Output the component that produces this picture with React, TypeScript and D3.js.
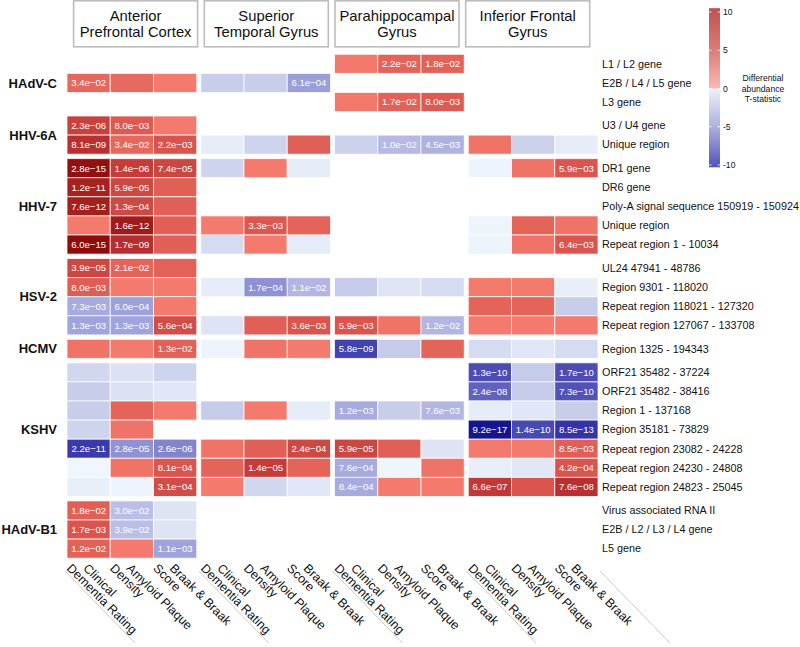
import React from "react";
import * as d3 from "d3";

// brain regions (facets) and the three clinical measures inside each
const regionLines = [
  ["Anterior", "Prefrontal Cortex"],
  ["Superior", "Temporal Gyrus"],
  ["Parahippocampal", "Gyrus"],
  ["Inferior Frontal", "Gyrus"],
];
const regions = ["APC", "STG", "PHG", "IFG"];
const measures = ["CDR", "APD", "BB"];
const measureLines = [
  ["Clinical", "Dementia Rating"],
  ["Amyloid Plaque", "Density"],
  ["Braak & Braak", "Score"],
];

const viruses = ["HAdV-C", "HHV-6A", "HHV-7", "HSV-2", "HCMV", "KSHV", "HAdV-B1"];
const virusRowCounts = [3, 2, 5, 4, 1, 7, 3];

const rowLabels = [
  "L1 / L2 gene",
  "E2B / L4 / L5 gene",
  "L3 gene",
  "U3 / U4 gene",
  "Unique region",
  "DR1 gene",
  "DR6 gene",
  "Poly-A signal sequence 150919 - 150924",
  "Unique region",
  "Repeat region 1 - 10034",
  "UL24 47941 - 48786",
  "Region 9301 - 118020",
  "Repeat region 118021 - 127320",
  "Repeat region 127067 - 133708",
  "Region 1325 - 194343",
  "ORF21 35482 - 37224",
  "ORF21 35482 - 38416",
  "Region 1 - 137168",
  "Region 35181 - 73829",
  "Repeat region 23082 - 24228",
  "Repeat region 24230 - 24808",
  "Repeat region 24823 - 25045",
  "Virus associated RNA II",
  "E2B / L2 / L3 / L4 gene",
  "L5 gene",
];

const _ = null;
// T-statistics, 12 columns = 4 regions x 3 measures (null = not measured)
const tStats: (number | null)[][] = [
  [_, _, _, _, _, _, 1.6, 2.4, 2.5, _, _, _],
  [2.3, 2.2, 1.5, -1.55, -1.55, -3.4, _, _, _, _, _, _],
  [_, _, _, _, _, _, 1.6, 2.5, 2.8, _, _, _],
  [4.8, 2.8, 1.5, _, _, _, _, _, _, _, _, _],
  [6.2, 2.3, 3.1, -0.6, -1.35, 2.6, -1.45, -2.3, -2.6, 1.8, -1.45, -0.6],
  [8.3, 5.2, 4.2, -1.35, 1.5, -0.6, _, _, _, -0.3, 1.8, 3.0],
  [7.2, 4.1, 2.6, _, _, _, _, _, _, _, _, _],
  [7.3, 4.0, 2.6, _, _, _, _, _, _, _, _, _],
  [1.5, 7.6, 2.6, 1.5, 2.9, 2.4, _, _, _, -0.3, 2.4, 1.8],
  [8.6, 6.3, 2.6, -1.1, 1.5, -0.6, _, _, _, -0.3, 1.8, 3.0],
  [4.1, 2.4, 2.5, _, _, _, _, _, _, _, _, _],
  [2.7, 1.5, 1.5, -0.6, -3.95, -2.4, -1.65, -0.8, -1.1, 1.5, 1.5, -0.5],
  [-2.9, -3.3, 1.5, _, _, _, _, _, _, 2.4, 2.4, -1.55],
  [-3.2, -3.2, 3.6, -0.85, 2.6, 3.0, 3.0, 1.8, -2.4, 1.5, 1.5, 1.5],
  [1.8, 1.5, 2.5, -0.3, 1.8, 1.5, -6.7, -1.65, 2.4, -1.1, -0.75, -1.1],
  [-1.25, -0.9, -1.35, _, _, _, _, _, _, -6.4, -1.65, -6.4],
  [-1.55, -0.9, -0.75, _, _, _, _, _, _, -5.6, -1.65, -6.2],
  [-1.55, 2.4, 1.5, -1.65, 1.5, -0.6, -2.9, -1.55, -2.4, -0.6, -0.75, -1.55],
  [-1.35, 1.8, _, _, _, _, _, _, _, -9.0, -6.5, -7.3],
  [-7.0, -3.9, -4.3, 1.8, 2.6, 4.0, 4.3, 2.6, -0.85, 1.5, 1.5, 2.6],
  [-0.2, 1.8, 3.0, 2.4, 5.2, 2.4, -2.9, -0.25, 1.8, -0.5, -0.75, 3.0],
  [-0.5, -0.3, 3.6, 1.5, -1.25, -0.75, -2.9, 1.5, 1.5, 5.5, 3.0, 6.2],
  [2.6, -2.1, -0.85, _, _, _, _, _, _, _, _, _],
  [3.0, -2.1, -0.85, _, _, _, _, _, _, _, _, _],
  [2.5, 1.5, -3.2, _, _, _, _, _, _, _, _, _],
];

// adjusted p-values printed in the significant cells ("" = none)
const pValues: string[][] = [
  ["", "", "", "", "", "", "", "2.2e-02", "1.8e-02", "", "", ""],
  ["3.4e-02", "", "", "", "", "6.1e-04", "", "", "", "", "", ""],
  ["", "", "", "", "", "", "", "1.7e-02", "8.0e-03", "", "", ""],
  ["2.3e-06", "8.0e-03", "", "", "", "", "", "", "", "", "", ""],
  ["8.1e-09", "3.4e-02", "2.2e-03", "", "", "", "", "1.0e-02", "4.5e-03", "", "", ""],
  ["2.8e-15", "1.4e-06", "7.4e-05", "", "", "", "", "", "", "", "", "5.9e-03"],
  ["1.2e-11", "5.9e-05", "", "", "", "", "", "", "", "", "", ""],
  ["7.6e-12", "1.3e-04", "", "", "", "", "", "", "", "", "", ""],
  ["", "1.6e-12", "", "", "3.3e-03", "", "", "", "", "", "", ""],
  ["6.0e-15", "1.7e-09", "", "", "", "", "", "", "", "", "", "6.4e-03"],
  ["3.9e-05", "2.1e-02", "", "", "", "", "", "", "", "", "", ""],
  ["8.0e-03", "", "", "", "1.7e-04", "1.1e-02", "", "", "", "", "", ""],
  ["7.3e-03", "6.0e-04", "", "", "", "", "", "", "", "", "", ""],
  ["1.3e-03", "1.3e-03", "5.6e-04", "", "", "3.6e-03", "5.9e-03", "", "1.2e-02", "", "", ""],
  ["", "", "1.3e-02", "", "", "", "5.8e-09", "", "", "", "", ""],
  ["", "", "", "", "", "", "", "", "", "1.3e-10", "", "1.7e-10"],
  ["", "", "", "", "", "", "", "", "", "2.4e-08", "", "7.3e-10"],
  ["", "", "", "", "", "", "1.2e-03", "", "7.6e-03", "", "", ""],
  ["", "", "", "", "", "", "", "", "", "9.2e-17", "1.4e-10", "8.5e-13"],
  ["2.2e-11", "2.8e-05", "2.6e-06", "", "", "2.4e-04", "5.9e-05", "", "", "", "", "8.5e-03"],
  ["", "", "8.1e-04", "", "1.4e-05", "", "7.6e-04", "", "", "", "", "4.2e-04"],
  ["", "", "3.1e-04", "", "", "", "8.4e-04", "", "", "6.6e-07", "", "7.6e-08"],
  ["1.8e-02", "3.0e-02", "", "", "", "", "", "", "", "", "", ""],
  ["1.7e-03", "3.9e-02", "", "", "", "", "", "", "", "", "", ""],
  ["1.2e-02", "", "1.1e-03", "", "", "", "", "", "", "", "", ""],
];

const legendTicks = [10, 5, 0, -5, -10];

const FONT = "'Liberation Sans', Arial, Helvetica, sans-serif";

export default function App() {
  const width = 800;
  const height = 647;

  const heatLeft = 67;
  const heatRight = 598;
  const heatTop = 54.3;
  const rowPitch = 19.1;
  const virusGap = 4.4;

  const groupX = d3.scaleBand<string>().domain(regions).range([heatLeft, heatRight]).paddingInner(0.03);
  const colX = d3.scaleBand<string>().domain(measures).range([0, groupX.bandwidth()]);
  const colW = colX.bandwidth();

  // which virus each row belongs to
  const rowVirus: number[] = [];
  virusRowCounts.forEach((n, v) => {
    for (let k = 0; k < n; k++) rowVirus.push(v);
  });
  const rowY = (i: number) => heatTop + i * rowPitch + rowVirus[i] * virusGap;

  const color = d3
    .scaleLinear<string>()
    .domain([-9, -7, -6.4, -4.3, -3.9, -3.2, -2.4, -1.6, -1.1, -0.6, -0.2, 0, 0.01, 1.5, 2.5, 3.0, 4.0, 5.2, 6.2, 7.5, 8.6])
    .range([
      "#151590", "#3a3aaa", "#4c4cb4", "#8285cc", "#9093d3", "#a0a4dc", "#b3b6e2", "#c7cce9", "#d5dbf0", "#e6ecf8", "#f0f6fd", "#f5f9fe",
      "#fbb0a6", "#f47a6e", "#e26258", "#d9554e", "#cc4a44", "#c63c38", "#b83030", "#a21c1a", "#8e0c0c",
    ])
    .clamp(true);

  const cellX = (c: number) => groupX(regions[Math.floor(c / 3)])! + colX(measures[c % 3])!;

  // legend
  const legX = 709;
  const legW = 11;
  const legY = d3.scaleLinear().domain([10, -10]).range([12, 165]);
  const legendStops = [
    { v: 10.5, c: "#c05050" },
    { v: 5, c: "#dd7c78" },
    { v: 0.05, c: "#fbb8b3" },
    { v: -0.05, c: "#eef0fa" },
    { v: -5, c: "#aeb0de" },
    { v: -10.3, c: "#5252b8" },
  ];
  const legTop = legY(10.5);
  const legBot = legY(-10.3);

  const boxW = 124;
  const boxStep = 130.7;
  const boxLeft0 = 73.6;

  const virusStart: number[] = [];
  virusRowCounts.reduce((acc, n) => {
    virusStart.push(acc);
    return acc + n;
  }, 0);

  const sepXs = [...regions.map((r) => groupX(r)! - 2), heatRight + 2];

  return (
    <svg width={width} height={height} style={{ position: "absolute", left: 0, top: 0, background: "#fff" }} fontFamily={FONT}>
      <defs>
        <linearGradient id="legGrad" x1="0" y1={legTop} x2="0" y2={legBot} gradientUnits="userSpaceOnUse">
          {legendStops.map((s, i) => (
            <stop key={i} offset={(legY(s.v) - legTop) / (legBot - legTop)} stopColor={s.c} />
          ))}
        </linearGradient>
      </defs>

      {/* region header boxes */}
      {regionLines.map((lines, g) => {
        const bx = boxLeft0 + g * boxStep;
        return (
          <g key={g}>
            <rect x={bx} y={0.8} width={boxW} height={46} fill="#fff" stroke="#bdbdbd" strokeWidth={1.6} />
            {lines.map((t, k) => (
              <text key={k} x={bx + boxW / 2} y={20.7 + k * 16.5} textAnchor="middle" fontSize={14.8} fill="#111">
                {t}
              </text>
            ))}
          </g>
        );
      })}

      {/* cells */}
      {tStats.map((row, i) =>
        row.map((t, c) =>
          t === null ? null : (
            <g key={`${i}-${c}`}>
              <rect
                x={cellX(c)}
                y={rowY(i)}
                width={colW}
                height={rowPitch}
                fill={color(t)}
                stroke="#fff"
                strokeOpacity={0.75}
                strokeWidth={1}
              />
              {pValues[i][c] && (
                <text x={cellX(c) + colW / 2} y={rowY(i) + rowPitch / 2 + 3.4} textAnchor="middle" fontSize={9.6} fill="#fff">
                  {pValues[i][c].replace("-", "\u2212")}
                </text>
              )}
            </g>
          )
        )
      )}

      {/* row labels */}
      {rowLabels.map((l, i) => (
        <text key={i} x={602} y={rowY(i) + rowPitch / 2 + 3.8} fontSize={10.8} fill="#111">
          {l}
        </text>
      ))}

      {/* virus labels */}
      {viruses.map((v, k) => {
        const first = virusStart[k];
        const last = first + virusRowCounts[k] - 1;
        const cy = (rowY(first) + rowY(last) + rowPitch) / 2;
        return (
          <text key={v} x={57} y={cy + 4.6} textAnchor="end" fontSize={13} fontWeight="bold" fill="#111">
            {v}
          </text>
        );
      })}

      {/* column labels, rotated */}
      {regions.map((r, g) =>
        measures.map((m, j) => {
          const cx = groupX(r)! + colX(m)! + colW / 2;
          return measureLines[j].map((t, k) => {
            const x = cx - 6 - k * 16.5;
            const y = 569;
            return (
              <text key={`${r}-${m}-${k}`} x={x} y={y} fontSize={12.5} fill="#111" transform={`rotate(45 ${x} ${y})`}>
                {t}
              </text>
            );
          });
        })
      )}

      {/* diagonal separators under the columns */}
      {sepXs.map((x, i) => (
        <line key={i} x1={x} y1={571} x2={x + 70} y2={643} stroke="#c8c8c8" strokeWidth={1} />
      ))}

      {/* legend */}
      <rect x={legX} y={legTop} width={legW} height={legBot - legTop} fill="url(#legGrad)" />
      {legendTicks.map((t) => (
        <g key={t}>
          <line x1={legX} x2={legX + 2.5} y1={legY(t)} y2={legY(t)} stroke="#fff" strokeWidth={0.8} />
          <line x1={legX + legW - 2.5} x2={legX + legW} y1={legY(t)} y2={legY(t)} stroke="#fff" strokeWidth={0.8} />
          <text x={legX + 14} y={legY(t) + 3} fontSize={8.6} fill="#111">
            {t}
          </text>
        </g>
      ))}
      {["Differential", "abundance", "T-statistic"].map((t, k) => (
        <text key={t} x={763} y={81 + k * 10.5} textAnchor="middle" fontSize={8.6} fill="#111">
          {t}
        </text>
      ))}
    </svg>
  );
}
